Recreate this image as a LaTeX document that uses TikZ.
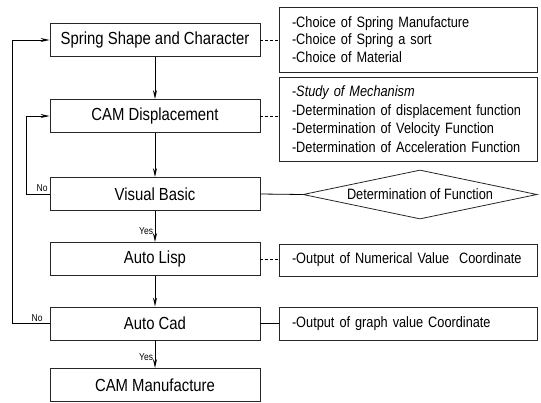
\documentclass[tikz,border=0pt]{standalone}
\usepackage{fontspec}
\setmainfont[FakeStretch=0.85]{Liberation Sans}
\usepackage{tikz}
\usetikzlibrary{arrows.meta, shapes.geometric}
\usepackage{xcolor}

\begin{document}
\begin{tikzpicture}[x=1pt, y=-1pt,
  stage/.style={draw=black!85, line width=0.8pt, minimum width=210pt, minimum height=33pt,
                inner sep=0pt, font=\fontsize{17.5}{20}\selectfont},
  note/.style={draw=black!85, line width=0.8pt, minimum width=258pt, text width=232pt,
               inner xsep=13pt, inner ysep=0pt, align=left},
  decide/.style={diamond, draw=black!85, line width=0.8pt, minimum width=234pt, minimum height=49pt,
                 inner sep=0pt, aspect=4.78, font=\fontsize{15}{18}\selectfont},
  flow/.style={-{Stealth[length=9pt, width=4pt]}, line width=1pt},
  link/.style={line width=0.8pt, densely dashed},
  solidlink/.style={line width=0.8pt},
  tag/.style={font=\fontsize{10}{12}\selectfont, inner sep=1.5pt}
]
  \useasboundingbox (0,0) rectangle (541,402);

  \node[stage] (spring) at (155,40) {Spring Shape and Character};
  \node[stage] (camdisp) at (155,116) {CAM Displacement};
  \node[stage] (visual) at (155,194) {Visual Basic};
  \node[stage] (lisp) at (155,259) {Auto Lisp};
  \node[stage] (cad) at (155,323.5) {Auto Cad};
  \node[stage] (manuf) at (155,385) {CAM Manufacture};

  \node[note, minimum height=65pt, font=\fontsize{15}{17.5}\selectfont] (choice) at (408,39.5)
    {-Choice of Spring Manufacture\\-Choice of Spring a sort\\-Choice of Material};
  \node[note, minimum height=84pt, font=\fontsize{15}{18.5}\selectfont] (study) at (408,119)
    {-{\itshape Study of Mechanism}\\-Determination of displacement function\\-Determination of Velocity Function\\-Determination of Acceleration Function};
  \node[decide] (func) at (420,194.5) {Determination of Function};
  \node[note, minimum height=32pt, font=\fontsize{15}{18}\selectfont] (numer) at (408,260)
    {-Output of Numerical Value~ Coordinate};
  \node[note, minimum height=33pt, font=\fontsize{15}{18}\selectfont] (graph) at (408,323.5)
    {-Output of graph value Coordinate};

  \draw[flow] (spring) -- (camdisp);
  \draw[flow] (camdisp) -- (visual);
  \draw[flow] (visual) -- node[tag, pos=0.65, left] (yes1) {Yes} (lisp);
  \draw[flow] (lisp) -- (cad);
  \draw[flow] (cad) -- node[tag, pos=0.6, left] (yes2) {Yes} (manuf);

  \draw[flow] (visual.west) node[tag, anchor=south east] (no1) {No} -- ++(-23,0) |- (camdisp.west);
  \draw[flow] (cad.west) node[tag, anchor=south east, xshift=-5pt] (no2) {No} -- ++(-37,0) |- (spring.west);

  \draw[link] (spring.east) -- (spring.east -| choice.west);
  \draw[link] (camdisp.east) -- (camdisp.east -| study.west);
  \draw[solidlink] (visual.east) -- (func.west);
  \draw[link] (lisp.east) -- (lisp.east -| numer.west);
  \draw[solidlink] (cad.east) -- (cad.east -| graph.west);
\end{tikzpicture}
\end{document}
